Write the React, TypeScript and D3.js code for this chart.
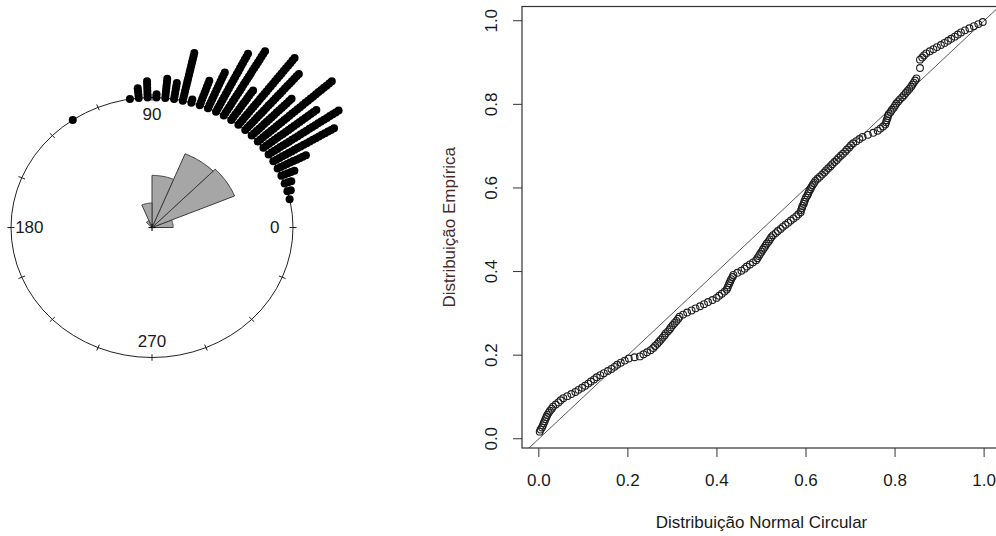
import * as d3 from 'd3'

// ---- left panel: circular data (degrees, counter-clockwise from east) ----
// stacked points: angle of each stack (bin centre) and how many points sit in it
const stackAngles = [12.6, 16.2, 19.8, 23.4, 27.0, 30.6, 34.2, 37.8, 41.4, 45.0, 48.6, 52.2, 55.8, 59.4, 63.0, 66.6, 70.2, 73.8, 77.4, 81.0, 84.6, 88.2, 91.8, 95.4, 99.0, 124.2]
const stackCounts = [1, 2, 3, 5, 10, 21, 25, 20, 29, 17, 24, 27, 12, 24, 21, 13, 9, 2, 16, 6, 7, 2, 6, 4, 1, 1]

// rose diagram, 16 bins of 22.5 degrees (only the non-empty ones)
const roseStarts = [0, 22.5, 45, 67.5, 90, 112.5]
const roseCounts = [7, 125, 117, 50, 11, 1]
const roseWidth = 22.5

const circleTickAngles = [0, 22.5, 45, 67.5, 90, 112.5, 135, 157.5, 180, 202.5, 225, 247.5, 270, 292.5, 315, 337.5]
const circleLabelAngles = [0, 90, 180, 270]
const circleLabels = ['0', '90', '180', '270']

// ---- right panel: P-P plot (theoretical cdf, empirical cdf) ----
const ppTheoretical = [
  0.002, 0.004, 0.007, 0.009, 0.011, 0.013, 0.015, 0.017, 0.019, 0.022,
  0.025, 0.029, 0.032, 0.038, 0.044, 0.049, 0.055, 0.064, 0.073, 0.082,
  0.089, 0.097, 0.104, 0.111, 0.117, 0.124, 0.130, 0.138, 0.146, 0.155,
  0.163, 0.170, 0.176, 0.184, 0.193, 0.202, 0.215, 0.227, 0.235, 0.243,
  0.251, 0.257, 0.261, 0.266, 0.270, 0.274, 0.278, 0.282, 0.285, 0.290,
  0.294, 0.297, 0.301, 0.305, 0.309, 0.313, 0.316, 0.324, 0.333, 0.343,
  0.352, 0.362, 0.371, 0.380, 0.390, 0.399, 0.405, 0.411, 0.417, 0.422,
  0.424, 0.426, 0.428, 0.430, 0.432, 0.435, 0.437, 0.446, 0.455, 0.462,
  0.467, 0.474, 0.481, 0.488, 0.491, 0.494, 0.497, 0.500, 0.503, 0.506,
  0.509, 0.512, 0.516, 0.519, 0.522, 0.526, 0.532, 0.537, 0.543, 0.548,
  0.554, 0.560, 0.566, 0.572, 0.578, 0.583, 0.588, 0.589, 0.591, 0.592,
  0.595, 0.596, 0.598, 0.600, 0.603, 0.605, 0.607, 0.610, 0.612, 0.615,
  0.618, 0.621, 0.626, 0.631, 0.636, 0.641, 0.645, 0.650, 0.655, 0.659,
  0.664, 0.669, 0.673, 0.678, 0.683, 0.688, 0.692, 0.697, 0.701, 0.706,
  0.713, 0.720, 0.727, 0.739, 0.751, 0.761, 0.767, 0.773, 0.778, 0.780,
  0.781, 0.783, 0.784, 0.786, 0.790, 0.793, 0.797, 0.800, 0.803, 0.807,
  0.811, 0.816, 0.820, 0.824, 0.828, 0.832, 0.836, 0.839, 0.842, 0.845,
  0.848, 0.856, 0.856, 0.861, 0.865, 0.870, 0.878, 0.886, 0.894, 0.903,
  0.911, 0.919, 0.926, 0.934, 0.941, 0.948, 0.957, 0.967, 0.977, 0.987,
  0.997,
]
const ppEmpirical = [
  0.017, 0.022, 0.027, 0.032, 0.037, 0.042, 0.047, 0.052, 0.057, 0.062,
  0.067, 0.072, 0.077, 0.082, 0.087, 0.092, 0.097, 0.102, 0.107, 0.112,
  0.117, 0.122, 0.127, 0.132, 0.137, 0.142, 0.147, 0.152, 0.157, 0.162,
  0.167, 0.172, 0.177, 0.182, 0.187, 0.192, 0.195, 0.197, 0.202, 0.207,
  0.212, 0.217, 0.222, 0.227, 0.232, 0.237, 0.242, 0.247, 0.252, 0.257,
  0.262, 0.267, 0.272, 0.277, 0.282, 0.287, 0.292, 0.297, 0.302, 0.307,
  0.312, 0.317, 0.322, 0.327, 0.332, 0.337, 0.342, 0.347, 0.352, 0.357,
  0.362, 0.367, 0.372, 0.377, 0.382, 0.387, 0.392, 0.397, 0.402, 0.407,
  0.412, 0.417, 0.422, 0.427, 0.432, 0.437, 0.442, 0.447, 0.452, 0.457,
  0.462, 0.467, 0.472, 0.477, 0.482, 0.487, 0.492, 0.497, 0.502, 0.507,
  0.512, 0.517, 0.522, 0.527, 0.532, 0.537, 0.542, 0.547, 0.552, 0.557,
  0.562, 0.567, 0.572, 0.577, 0.582, 0.587, 0.592, 0.597, 0.602, 0.607,
  0.612, 0.617, 0.622, 0.627, 0.632, 0.637, 0.642, 0.647, 0.652, 0.657,
  0.662, 0.667, 0.672, 0.677, 0.682, 0.687, 0.692, 0.697, 0.702, 0.707,
  0.712, 0.717, 0.722, 0.727, 0.732, 0.737, 0.742, 0.747, 0.752, 0.757,
  0.762, 0.767, 0.772, 0.777, 0.782, 0.787, 0.792, 0.797, 0.802, 0.807,
  0.812, 0.817, 0.822, 0.827, 0.832, 0.837, 0.842, 0.847, 0.852, 0.857,
  0.862, 0.887, 0.907, 0.912, 0.917, 0.922, 0.927, 0.932, 0.937, 0.942,
  0.947, 0.952, 0.957, 0.962, 0.967, 0.972, 0.977, 0.982, 0.987, 0.992,
  0.997,
]
const ppTicks = [0, 0.2, 0.4, 0.6, 0.8, 1.0]
const ppTickLabels = ['0.0', '0.2', '0.4', '0.6', '0.8', '1.0']

const FONT = 'Arial, "Liberation Sans", sans-serif'
const SEP = 0.025 // radial gap between stacked points

export default function App() {
  // circular panel uses unit-circle coordinates
  const cx = d3.scaleLinear().domain([-1, 1]).range([11, 293])
  const cy = d3.scaleLinear().domain([-1, 1]).range([357.5, 97.5])
  const polar = (deg: number, r: number): [number, number] => {
    const a = (deg * Math.PI) / 180
    return [cx(r * Math.cos(a)), cy(r * Math.sin(a))]
  }

  const dots: { x: number; y: number }[] = []
  stackAngles.forEach((ang, i) => {
    for (let j = 0; j < stackCounts[i]; j++) {
      const [x, y] = polar(ang, 1 + j * SEP)
      dots.push({ x, y })
    }
  })

  const nRose = d3.sum(roseCounts)
  const line = d3.line()
  const rosePaths = roseStarts.map((start, i) => {
    const r = Math.sqrt(roseCounts[i] / nRose)
    const pts: [number, number][] = [polar(0, 0)]
    for (let s = 0; s <= 24; s++) pts.push(polar(start + (roseWidth * s) / 24, r))
    return line(pts) + 'Z'
  })

  // P-P panel, R style 4% padding around the data range
  const x = d3.scaleLinear().domain([-0.0378, 1.0368]).range([522, 1000.5])
  const y = d3.scaleLinear().domain([-0.0221, 1.0341]).range([448, 6.5])
  const [x0, x1] = x.range()
  const [y0, y1] = y.range()

  return (
    <svg width={996} height={536} style={{ position: 'absolute', left: 0, top: 0, background: '#fff' }} fontFamily={FONT}>
      {/* ---- circular plot ---- */}
      <ellipse cx={cx(0)} cy={cy(0)} rx={cx(1) - cx(0)} ry={cy(0) - cy(1)} fill="none" stroke="#222" strokeWidth={1} />
      {circleTickAngles.map((a) => {
        const [ax, ay] = polar(a, 0.975)
        const [bx, by] = polar(a, 1.025)
        return <line key={a} x1={ax} y1={ay} x2={bx} y2={by} stroke="#222" strokeWidth={1} />
      })}
      {circleLabelAngles.map((a, i) => {
        const [lx, ly] = polar(a, 0.87)
        return (
          <text key={a} x={lx} y={ly} dy="0.35em" textAnchor="middle" fontSize={17} fill="#1a1a1a">
            {circleLabels[i]}
          </text>
        )
      })}
      {rosePaths.map((d, i) => (
        <path key={i} d={d} fill="#a6a6a6" stroke="#3c3c3c" strokeWidth={1} strokeLinejoin="round" />
      ))}
      <line x1={cx(0) - 3.5} x2={cx(0) + 3.5} y1={cy(0)} y2={cy(0)} stroke="#111" strokeWidth={1.2} />
      <line x1={cx(0)} x2={cx(0)} y1={cy(0) - 3.5} y2={cy(0) + 3.5} stroke="#111" strokeWidth={1.2} />
      {dots.map((d, i) => (
        <circle key={i} cx={d.x} cy={d.y} r={4} fill="#000" />
      ))}

      {/* ---- P-P plot ---- */}
      <defs>
        <clipPath id="pp-clip">
          <rect x={x0} y={y1} width={x1 - x0} height={y0 - y1} />
        </clipPath>
      </defs>
      <line
        x1={x(-0.1)} y1={y(-0.1)} x2={x(1.1)} y2={y(1.1)}
        stroke="#444" strokeWidth={0.9} clipPath="url(#pp-clip)"
      />
      {ppTheoretical.map((v, i) => (
        <circle key={i} cx={x(v)} cy={y(ppEmpirical[i])} r={3.4} fill="none" stroke="#1e1e1e" strokeWidth={1.1} />
      ))}
      <rect x={x0} y={y1} width={x1 - x0} height={y0 - y1} fill="none" stroke="#333" strokeWidth={1.2} />

      {/* x axis */}
      {ppTicks.map((t, i) => (
        <g key={'x' + t}>
          <line x1={x(t)} x2={x(t)} y1={y0} y2={y0 + 9} stroke="#333" strokeWidth={1} />
          <text x={x(t)} y={486} textAnchor="middle" fontSize={17} fill="#1a1a1a">{ppTickLabels[i]}</text>
        </g>
      ))}
      <text x={(x(0) + x(1)) / 2} y={528} textAnchor="middle" fontSize={17} fill="#1a1a1a">
        Distribuição Normal Circular
      </text>

      {/* y axis */}
      {ppTicks.map((t, i) => (
        <g key={'y' + t}>
          <line x1={x0} x2={x0 - 9} y1={y(t)} y2={y(t)} stroke="#333" strokeWidth={1} />
          <text transform={`translate(497,${y(t)}) rotate(-90)`} textAnchor="middle" fontSize={17} fill="#1a1a1a">
            {ppTickLabels[i]}
          </text>
        </g>
      ))}
      <text transform={`translate(455,${(y0 + y1) / 2}) rotate(-90)`} textAnchor="middle" fontSize={17} fill="#4a2a2a">
        Distribuição Empírica
      </text>
    </svg>
  )
}
